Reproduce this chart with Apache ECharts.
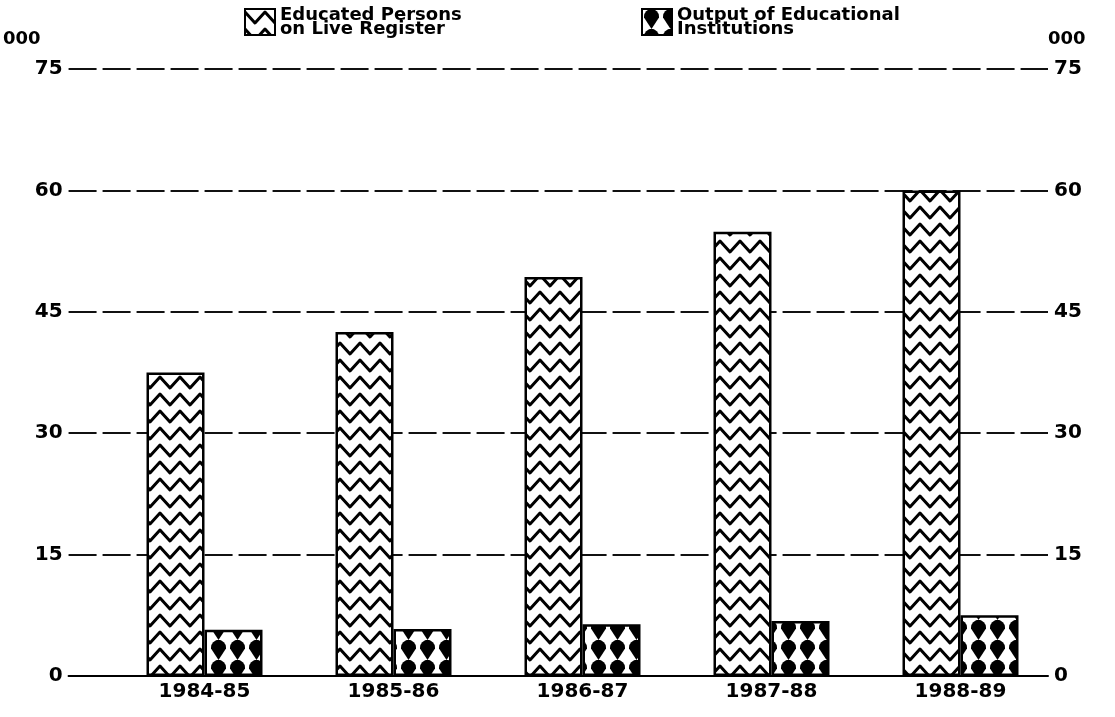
<!DOCTYPE html>
<html>
<head>
<meta charset="utf-8">
<script src="https://cdn.jsdelivr.net/npm/echarts@6/dist/echarts.min.js"></script>
<style>
html,body{margin:0;padding:0;background:#fff;}
#chart{width:1115px;height:717px;}
</style>
</head>
<body>
<div id="chart"></div>
<script>
// ---- data ----
const categories = ['1984-85', '1985-86', '1986-87', '1987-88', '1988-89'];
const educatedOnRegister = [37.5, 42.5, 49.3, 54.9, 60.0];
const outputOfInstitutions = [5.7, 5.8, 6.4, 6.8, 7.5];
const seriesNames = ['Educated Persons\non Live Register', 'Output of Educational\nInstitutions'];
const yTicks = { min: 0, max: 75, interval: 15 };
const unitLabel = '000';

// ---- patterns ----
function zigzagPattern() {
  const c = document.createElement('canvas');
  c.width = 20; c.height = 17;
  const g = c.getContext('2d');
  g.fillStyle = '#fff'; g.fillRect(0, 0, 20, 17);
  g.strokeStyle = '#000'; g.lineWidth = 3; g.lineJoin = 'round'; g.lineCap = 'round';
  g.beginPath();
  g.moveTo(-10, 14); g.lineTo(0, 3); g.lineTo(10, 14); g.lineTo(20, 3); g.lineTo(30, 14);
  g.stroke();
  return c;
}
function heartPattern() {
  const c = document.createElement('canvas');
  c.width = 19; c.height = 20;
  const g = c.getContext('2d');
  g.fillStyle = '#fff'; g.fillRect(0, 0, 19, 20);
  g.fillStyle = '#000';
  g.beginPath();
  g.arc(9.5, 7.5, 7.5, Math.PI, 0);
  g.lineTo(17, 8.5);
  g.lineTo(9.5, 20);
  g.lineTo(2, 8.5);
  g.closePath();
  g.fill();
  g.beginPath();
  g.moveTo(7, 0); g.lineTo(12, 0); g.lineTo(9.5, 3); g.closePath(); g.fill();
  return c;
}

const font = 'DejaVu Sans';
const chart = echarts.init(document.getElementById('chart'), null, { renderer: 'canvas' });

const gridTop = 69, gridBottom = 41;
const legendText = { fontFamily: font, fontWeight: 'bold', fontSize: 18, lineHeight: 14, color: '#000' };

chart.setOption({
  backgroundColor: '#fff',
  animation: false,
  textStyle: { fontFamily: font, fontWeight: 'bold', color: '#000' },
  legend: [
    {
      data: [seriesNames[0]], left: 239, top: 1, icon: 'rect', itemWidth: 30, itemHeight: 26, itemGap: 4,
      textStyle: legendText
    },
    {
      data: [seriesNames[1]], left: 636, top: 1, icon: 'rect', itemWidth: 30, itemHeight: 26, itemGap: 4,
      textStyle: legendText
    }
  ],
  grid: [
    { left: 68, right: 67, top: gridTop, bottom: gridBottom, containLabel: false },
    { left: 110, right: 60, top: gridTop, bottom: gridBottom, containLabel: false }
  ],
  xAxis: [
    {
      gridIndex: 0, type: 'category', data: [''],
      axisLine: { show: true, lineStyle: { color: '#000', width: 2 } },
      axisTick: { show: false }, axisLabel: { show: false }, splitLine: { show: false }
    },
    {
      gridIndex: 1, type: 'category', data: categories,
      axisLine: { show: false }, axisTick: { show: false },
      axisLabel: { fontFamily: font, fontWeight: 'bold', fontSize: 20, color: '#000', margin: 6 }
    }
  ],
  yAxis: [
    {
      gridIndex: 0, type: 'value', position: 'left', min: yTicks.min, max: yTicks.max, interval: yTicks.interval,
      name: unitLabel, nameLocation: 'end', nameGap: 21,
      nameTextStyle: { fontFamily: font, fontWeight: 'bold', fontSize: 18, color: '#000', align: 'right', padding: [0, 28, 0, 0] },
      axisLine: { show: false }, axisTick: { show: false },
      axisLabel: { fontFamily: font, fontWeight: 'bold', fontSize: 20, color: '#000', margin: 6 },
      splitLine: { show: true, lineStyle: { color: '#111', width: 2, type: [28, 6] } }
    },
    {
      gridIndex: 0, type: 'value', position: 'right', min: yTicks.min, max: yTicks.max, interval: yTicks.interval,
      name: unitLabel, nameLocation: 'end', nameGap: 21,
      nameTextStyle: { fontFamily: font, fontWeight: 'bold', fontSize: 18, color: '#000', align: 'left', padding: [0, 0, 0, 0] },
      axisLine: { show: false }, axisTick: { show: false },
      axisLabel: { fontFamily: font, fontWeight: 'bold', fontSize: 20, color: '#000', margin: 6 },
      splitLine: { show: false }
    },
    {
      gridIndex: 1, type: 'value', min: yTicks.min, max: yTicks.max, interval: yTicks.interval, show: false,
      splitLine: { show: false }
    }
  ],
  series: [
    {
      name: seriesNames[0], type: 'bar', xAxisIndex: 1, yAxisIndex: 2,
      data: educatedOnRegister, barWidth: 58, barGap: '0%',
      itemStyle: { color: { image: zigzagPattern(), repeat: 'repeat' }, borderColor: '#000', borderWidth: 2.5 }
    },
    {
      name: seriesNames[1], type: 'bar', xAxisIndex: 1, yAxisIndex: 2,
      data: outputOfInstitutions, barWidth: 58, barGap: '0%',
      itemStyle: { color: { image: heartPattern(), repeat: 'repeat' }, borderColor: '#000', borderWidth: 2.5 }
    }
  ]
});
</script>
</body>
</html>
